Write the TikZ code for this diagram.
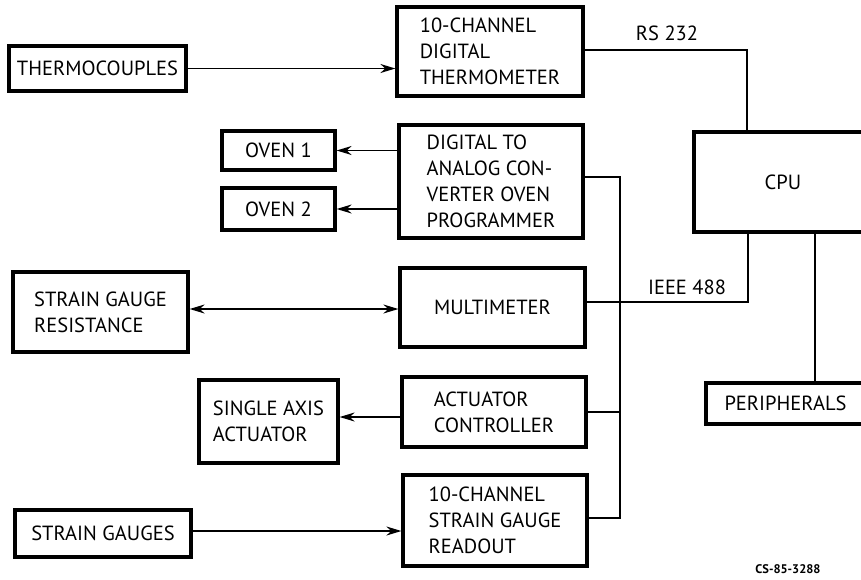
\documentclass[tikz,border=0pt]{standalone}
\usepackage{fontspec}
\setmainfont{PT Sans}
\usetikzlibrary{arrows.meta}
\begin{document}
\begin{tikzpicture}[x=1pt,y=-1pt,
  blk/.style={draw,line width=3.2pt,rectangle,inner sep=0pt,align=left,font=\fontsize{20.5}{26}\selectfont},
  conn/.style={line width=1.7pt},
  arr/.style={conn,-{Stealth[length=15pt,width=9pt]}},
  lbl/.style={font=\fontsize{20.5}{26}\selectfont,inner sep=0pt}]
\useasboundingbox (0,0) rectangle (861,579);
\clip (0,0) rectangle (861,579);
\node[blk,minimum width=177pt,minimum height=45pt] (thc) at (97.5,68.5) {THERMOCOUPLES};
\node[blk,minimum width=186pt,minimum height=89pt] (therm) at (490,51.5) {10-CHANNEL\\DIGITAL\\THERMOMETER};
\node[blk,minimum width=113pt,minimum height=39pt] (oven1) at (278.5,150.5) {OVEN 1};
\node[blk,minimum width=113pt,minimum height=42pt] (oven2) at (278.5,209) {OVEN 2};
\node[blk,minimum width=184pt,minimum height=113pt] (dac) at (491,181.5) {DIGITAL TO\\ANALOG CON-\\VERTER OVEN\\PROGRAMMER};
\node[blk,minimum width=175pt,minimum height=80pt] (sgr) at (100.5,312) {STRAIN GAUGE\\RESISTANCE};
\node[blk,minimum width=185pt,minimum height=79pt] (mm) at (492.5,307.5) {MULTIMETER};
\node[blk,minimum width=139pt,minimum height=83pt] (sa) at (268.5,421.5) {SINGLE AXIS\\ACTUATOR};
\node[blk,minimum width=184pt,minimum height=70pt] (ac) at (494,412) {ACTUATOR\\CONTROLLER};
\node[blk,minimum width=176pt,minimum height=47pt] (sg) at (103,533.5) {STRAIN GAUGES};
\node[blk,minimum width=184pt,minimum height=91pt] (sgro) at (495,520.5) {10-CHANNEL\\STRAIN GAUGE\\READOUT};
\node[blk,minimum width=178pt,minimum height=100pt] (cpu) at (783,182) {CPU};
\node[blk,minimum width=159pt,minimum height=41pt] (per) at (785.5,403.5) {PERIPHERALS};
\coordinate (rs) at (747,50);
\coordinate (ieee) at (748,302);
\coordinate (bt) at (620,177);
\coordinate (bb) at (620,518);
\coordinate (px) at (815,300);
\draw[arr] (thc.east) -- (thc.east -| therm.west);
\draw[arr] (oven1.east -| dac.west) -- (oven1.east);
\draw[arr] (oven2.east -| dac.west) -- (oven2.east);
\draw[conn,{Stealth[length=15pt,width=9pt]}-{Stealth[length=15pt,width=9pt]}] (sgr.east |- 0,309) -- (mm.west |- 0,309);
\draw[arr] (ac.west |- 0,417) -- (sa.east |- 0,417);
\draw[arr] (sg.east |- 0,531) -- (sgro.west |- 0,531);
\draw[conn] (therm.east |- rs) -- (rs) -- (rs |- cpu.north);
\draw[conn] (mm.east |- ieee) -- (ieee) -- (ieee |- cpu.south);
\draw[conn] (dac.east |- bt) -- (bt) -- (bb) -- (bb -| sgro.east);
\draw[conn] (ac.east) -- (ac.east -| bt);
\draw[conn] (px |- cpu.south) -- (px |- per.north);
\node[lbl] (rslbl) at (667,33) {RS 232};
\node[lbl] (ieeelbl) at (687,287) {IEEE 488};
\node[lbl,font=\bfseries\fontsize{12.5}{14}\selectfont] (cs) at (788,569) {CS-85-3288};
\end{tikzpicture}
\end{document}
